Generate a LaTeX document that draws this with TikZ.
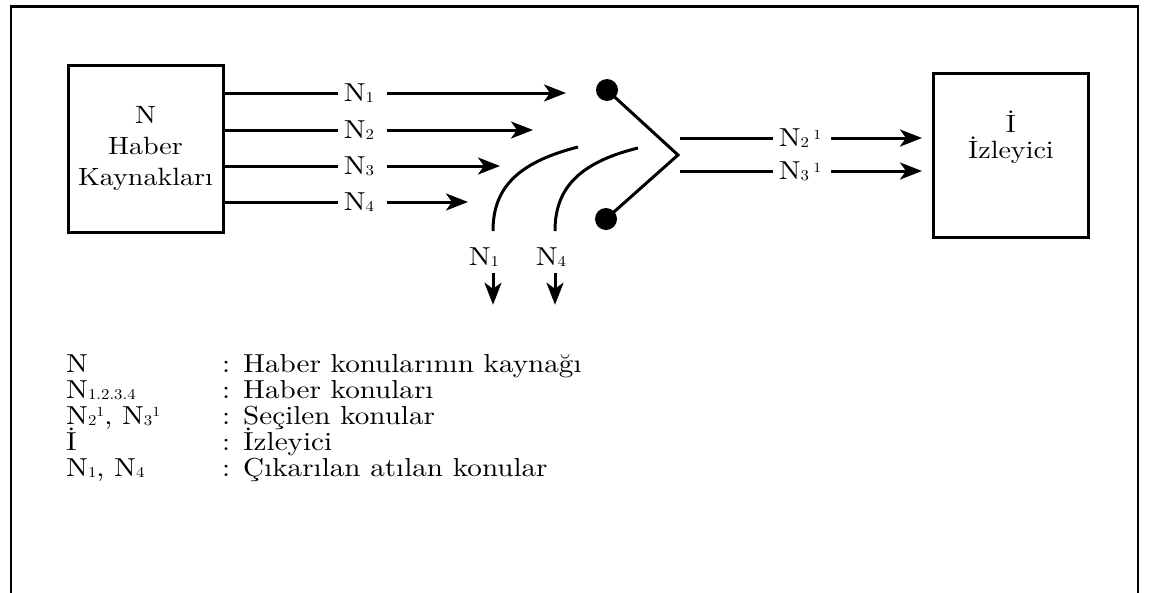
\documentclass[tikz,border=0pt]{standalone}
\usepackage{fontspec}
\setmainfont{lmroman10-regular.otf}[FakeStretch=1.12]
\usetikzlibrary{arrows.meta}
\newcommand\lo[1]{\raisebox{-0.05em}{\fontsize{15}{15}\selectfont #1}}
\newcommand\hi[1]{\raisebox{0.27em}{\fontsize{14}{14}\selectfont #1}}
\tikzset{
  frameline/.style={line width=2.4pt},
  boxnode/.style={draw, line width=3pt, inner sep=0pt, align=center},
  lbl/.style={inner sep=0pt, font=\fontsize{26}{30}\selectfont},
  wire/.style={line width=3pt},
  arr/.style={line width=3pt, -{Stealth[length=22pt,width=17pt,inset=6pt]}},
  dotnode/.style={circle, fill=black, minimum size=22pt, inner sep=0pt},
  legtxt/.style={anchor=base west, inner sep=0pt, font=\fontsize{26}{30}\selectfont}
}
\begin{document}
\begin{tikzpicture}[x=1pt,y=-1pt]
\useasboundingbox (0,0) rectangle (1149,592);
% outer frame
\draw[frameline] (11,593) -- (11,6.5) -- (1138,6.5) -- (1138,593);

% source box
\node[boxnode, minimum width=155pt, minimum height=167pt,
      font=\fontsize{25}{31}\selectfont] (src) at (145.5,148.5)
      {N\\Haber\\Kaynakları};

% input labels
\node[lbl] (n1) at (359,93)  {N\lo{1}};
\node[lbl] (n2) at (359,130) {N\lo{2}};
\node[lbl] (n3) at (359,166) {N\lo{3}};
\node[lbl] (n4) at (359,202) {N\lo{4}};
\coordinate (e1) at (566,93);
\coordinate (e2) at (533,130);
\coordinate (e3) at (500,166);
\coordinate (e4) at (468,202);
\foreach \i in {1,2,3,4}{
  \draw[wire] (src.east |- n\i) -- ([xshift=-6pt]n\i.west);
  \draw[arr] ([xshift=13pt]n\i.east) -- (e\i);
}

% switch
\node[dotnode] (dtop) at (607,90) {};
\node[dotnode] (dbot) at (606,219) {};
\coordinate (vx) at (678,155);
\draw[wire, line join=miter] (dtop.center) -- (vx) -- (dbot.center);

% deflectors
\coordinate (c1a) at (493,231);
\coordinate (c1b) at (578,147);
\coordinate (c4a) at (555,231);
\coordinate (c4b) at (638,148);
\draw[wire] (c1a) .. controls (493,190) and (515,163) .. (c1b);
\draw[wire] (c4a) .. controls (555,190) and (577,163) .. (c4b);

% discarded labels and arrows
\node[lbl] (d1) at (484,257) {N\lo{1}};
\node[lbl] (d4) at (551,257) {N\lo{4}};
\draw[arr] (d1.south -| c1a) ++(0,6) -- ++(0,32);
\draw[arr] (d4.south -| c4a) ++(0,6) -- ++(0,32);

% viewer box
\node[boxnode, minimum width=155pt, minimum height=164pt] (viewer) at (1011,155) {};
\node[lbl, align=center, font=\fontsize{25}{26}\selectfont] (vtxt) at (1011,137) {İ\\İzleyici};

% output labels
\node[lbl] (m2) at (800,138) {N\lo{2}\,\hi{1}};
\node[lbl] (m3) at (800,171) {N\lo{3}\,\hi{1}};
\coordinate (o2) at (680,138);
\coordinate (o3) at (680,171);
\draw[wire] (o2) -- ([xshift=-6pt]m2.west);
\draw[wire] (o3) -- ([xshift=-6pt]m3.west);
\draw[arr, shorten >=10pt] ([xshift=10pt]m2.east) -- (viewer.west |- m2);
\draw[arr, shorten >=10pt] ([xshift=10pt]m3.east) -- (viewer.west |- m3);

% legend
\node[legtxt] (l1a) at (66,372) {N};
\node[legtxt] (l1b) at (222,372) {: Haber konularının kaynağı};
\node[legtxt] (l2a) at (66,398) {N\lo{1.2.3.4}};
\node[legtxt] (l2b) at (222,398) {: Haber konuları};
\node[legtxt] (l3a) at (66,424) {N\lo{2}\hi{1}, N\lo{3}\hi{1}};
\node[legtxt] (l3b) at (222,424) {: Seçilen konular};
\node[legtxt] (l4a) at (66,450) {İ};
\node[legtxt] (l4b) at (222,450) {: İzleyici};
\node[legtxt] (l5a) at (66,476) {N\lo{1}, N\lo{4}};
\node[legtxt] (l5b) at (222,476) {: Çıkarılan atılan konular};
\end{tikzpicture}
\end{document}
